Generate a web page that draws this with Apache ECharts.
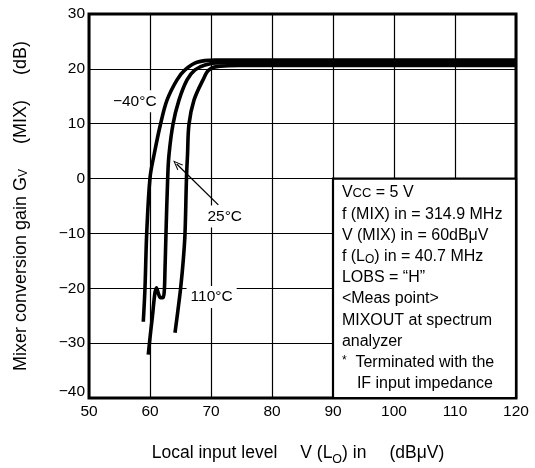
<!DOCTYPE html>
<html>
<head>
<meta charset="utf-8">
<script src="https://cdn.jsdelivr.net/npm/echarts@6/dist/echarts.min.js"></script>
<style>
html,body{margin:0;padding:0;background:#fff;}
#c{width:535px;height:468px;}
</style>
</head>
<body>
<div id="c"></div>
<script>
// X axis: Local input level V(Lo) in (dBuV); Y axis: mixer conversion gain (dB)
var xTicks = [50, 60, 70, 80, 90, 100, 110, 120];
var yTicks = [-40, -30, -20, -10, 0, 10, 20, 30];

// Curves: [input level, gain]
var curveM40 = [[58.90,-26.1],[59.18,-19.9],[59.46,-10.0],[60.0,0.1],[60.66,4.3],[61.72,9.9],[62.79,14.3],[64.43,18.0],[65.74,19.8],[67.70,21.2],[70.66,21.6],[120,21.6]];
var curveP25 = [[59.72,-32.1],[60.33,-25.8],[61.07,-19.9],[61.39,-21.0],[61.72,-21.7],[62.13,-21.7],[62.34,-20.5],[62.46,-16.6],[62.62,-10.0],[62.90,0.1],[63.11,4.3],[63.77,9.9],[64.75,14.3],[66.07,18.0],[67.38,19.8],[69.02,20.7],[71.48,21.1],[120,21.1]];
var curveP110 = [[64.10,-28.1],[64.59,-23.9],[65.03,-19.9],[65.46,-14.8],[65.74,-10.0],[65.98,0.1],[66.15,4.3],[66.39,9.9],[67.21,14.3],[68.69,18.0],[69.67,19.8],[71.48,20.5],[74.75,20.6],[120,20.6]];

// Annotation labels: [text, x, y]
var tempLabels = [['\u221240\u00b0C', 57.5, 14.1], ['25\u00b0C', 72.25, -6.9], ['110\u00b0C', 70.1, -21.6]];
var arrowFrom = [71.2, -4.8];
var arrowTo = [64.38, 2.66];
var noteBox = [[90, 0], [120, -40]];
var noteLines = [
  'V{s|CC} = 5 V',
  'f (MIX) in = 314.9 MHz',
  'V (MIX) in = 60dB\u03bcV',
  'f (L{sub|O}) in = 40.7 MHz',
  'LOBS = \u201cH\u201d',
  '<Meas point>',
  'MIXOUT at spectrum',
  'analyzer',
  '{ast|*}  Terminated with the',
  '{ind|}IF input impedance'
];

var FONT = 'Liberation Sans, Arial, Helvetica, sans-serif';
var chart = echarts.init(document.getElementById('c'), null, {renderer: 'canvas'});

function fmtNum(v) { return v < 0 ? '\u2212' + Math.abs(v) : String(v); }

var lineStyle = {color: '#000', width: 3.6};

var option = {
  animation: false,
  backgroundColor: '#fff',
  grid: {left: 89, right: 19, top: 14, bottom: 70, show: true, borderColor: '#000', borderWidth: 3,
    backgroundColor: 'transparent', containLabel: false, outerBoundsMode: 'none'},
  xAxis: {
    type: 'value', min: xTicks[0], max: xTicks[xTicks.length - 1], interval: 10,
    axisLine: {show: false}, axisTick: {show: false},
    splitLine: {show: true, lineStyle: {color: '#000', width: 1.2}},
    axisLabel: {color: '#000', fontSize: 15.5, fontFamily: FONT, margin: 6, formatter: fmtNum},
    name: 'Local input level{g|}V (L{sub|O}) in{g|}(dB\u03bcV)',
    nameLocation: 'middle', nameGap: 46,
    nameTextStyle: {color: '#000', fontSize: 17.5, fontFamily: FONT, padding: [0, 9, 0, 0],
      rich: {
        sub: {fontSize: 12.5, fontFamily: FONT, color: '#000', verticalAlign: 'bottom', lineHeight: 12, padding: [0,0,-4,0]},
        g: {width: 23}
      }}
  },
  yAxis: {
    type: 'value', min: yTicks[0], max: yTicks[yTicks.length - 1], interval: 10,
    axisLine: {show: false}, axisTick: {show: false},
    splitLine: {show: true, lineStyle: {color: '#000', width: 1.2}},
    axisLabel: {color: '#000', fontSize: 15.5, fontFamily: FONT, margin: 4,
      formatter: function (v) { return v === yTicks[0] ? '{lo|' + fmtNum(v) + '}' : fmtNum(v); },
      rich: {lo: {fontSize: 15.5, fontFamily: FONT, color: '#000', padding: [0, 0, 12, 0]}}},
    name: 'Mixer conversion gain G{sub|V}{g|}(MIX){g|}(dB)',
    nameLocation: 'middle', nameGap: 59, nameRotate: 90,
    nameTextStyle: {color: '#000', fontSize: 18, fontFamily: FONT,
      rich: {
        sub: {fontSize: 12, fontFamily: FONT, color: '#000', padding: [0,0,-5,0]},
        g: {width: 25}
      }}
  },
  series: [
    {
      type: 'line', data: curveM40, showSymbol: false, smooth: 0.35, lineStyle: lineStyle, z: 3,
      markArea: {
        silent: true,
        itemStyle: {color: '#fff', borderColor: '#000', borderWidth: 2.2},
        label: {
          show: true, position: 'insideTopLeft', distance: 0, padding: [5, 0, 0, 10],
          color: '#000', fontSize: 16, fontFamily: FONT, lineHeight: 21.2,
          formatter: noteLines.join('\n'),
          rich: {
            s: {fontSize: 13, fontFamily: FONT, color: '#000', lineHeight: 21.2},
            sub: {fontSize: 12, fontFamily: FONT, color: '#000', lineHeight: 21.2, padding: [6, 0, 0, 0]},
            ast: {fontSize: 12, fontFamily: FONT, color: '#000', lineHeight: 21.2, padding: [0, 0, 3, 0]},
            ind: {width: 15, lineHeight: 21.2}
          }
        },
        data: [[{coord: noteBox[0]}, {coord: noteBox[1]}]]
      },
      markLine: {
        silent: true, symbol: ['none', 'path://M0,10 L5,0 L10,10 L8.6,10 L5,2.6 L1.4,10 Z'], symbolSize: [8, 10],
        lineStyle: {color: '#000', width: 1.3, type: 'solid'},
        itemStyle: {color: '#000'},
        label: {show: false},
        data: [[{coord: arrowFrom}, {coord: arrowTo}]]
      },
      markPoint: {
        silent: true, symbol: 'circle', symbolSize: 0,
        label: {show: true, position: 'inside', color: '#000', fontSize: 15.5, fontFamily: FONT,
          backgroundColor: '#fff', padding: [3, 4], formatter: '{b}'},
        data: tempLabels.map(function (t) { return {name: t[0], coord: [t[1], t[2]]}; })
      }
    },
    {type: 'line', data: curveP25, showSymbol: false, smooth: 0.35, lineStyle: lineStyle, z: 3},
    {type: 'line', data: curveP110, showSymbol: false, smooth: 0.35, lineStyle: lineStyle, z: 3}
  ]
};
chart.setOption(option);
</script>
</body>
</html>
